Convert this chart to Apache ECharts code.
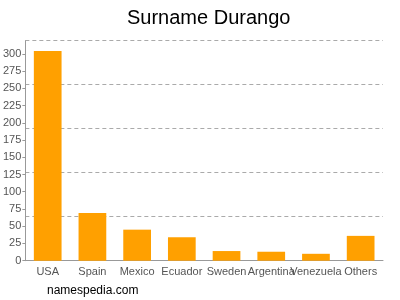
<!DOCTYPE html>
<html><head><meta charset="utf-8">
<script src="https://cdn.jsdelivr.net/npm/echarts@6/dist/echarts.min.js"></script>
<style>html,body{margin:0;padding:0;background:#fff}#c{width:400px;height:300px}</style>
</head><body><div id="c"></div>
<script>
var categories = ["USA","Spain","Mexico","Ecuador","Sweden","Argentina","Venezuela","Others"];
var values = [304, 69, 45, 34, 14, 13, 10, 36];
var yMax = 319;
var labelInterval = 25;
var gridInterval = 63.8;

var chart = echarts.init(document.getElementById('c'), null, {renderer:'canvas'});
chart.setOption({
  animation:false,
  textStyle:{fontFamily:'Liberation Sans, Arial, sans-serif'},
  title:{text:'Surname Durango', left:122, top:3, textStyle:{fontSize:20, fontWeight:'normal', color:'#000', fontFamily:'Liberation Sans, Arial, sans-serif'}},
  graphic:[{type:'text', left:47, top:285, style:{text:'namespedia.com', fontSize:12, fill:'#000', fontFamily:'Liberation Sans, Arial, sans-serif'}}],
  grid:{left:25, right:17, top:40.7, bottom:39.3, containLabel:false},
  xAxis:{type:'category', data:categories, axisLine:{lineStyle:{color:'#999'}}, axisTick:{show:false},
    axisLabel:{color:'#555', fontSize:11, interval:0, margin:6}},
  yAxis:[
    {type:'value', min:0, max:yMax, interval:labelInterval, axisLine:{show:true, lineStyle:{color:'#999'}}, axisTick:{show:true, length:3, lineStyle:{color:'#999'}},
      axisLabel:{color:'#555', fontSize:11, margin:4, showMaxLabel:false}, splitLine:{show:false}},
    {type:'value', min:0, max:yMax, interval:gridInterval, position:'left', axisLine:{show:false}, axisTick:{show:false}, axisLabel:{show:false},
      splitLine:{show:true, lineStyle:{color:'#aaa', type:[4,3]}}}
  ],
  series:[{type:'bar', data:values, barWidth:'62%', itemStyle:{color:'#ffa000'}}]
});
</script></body></html>
